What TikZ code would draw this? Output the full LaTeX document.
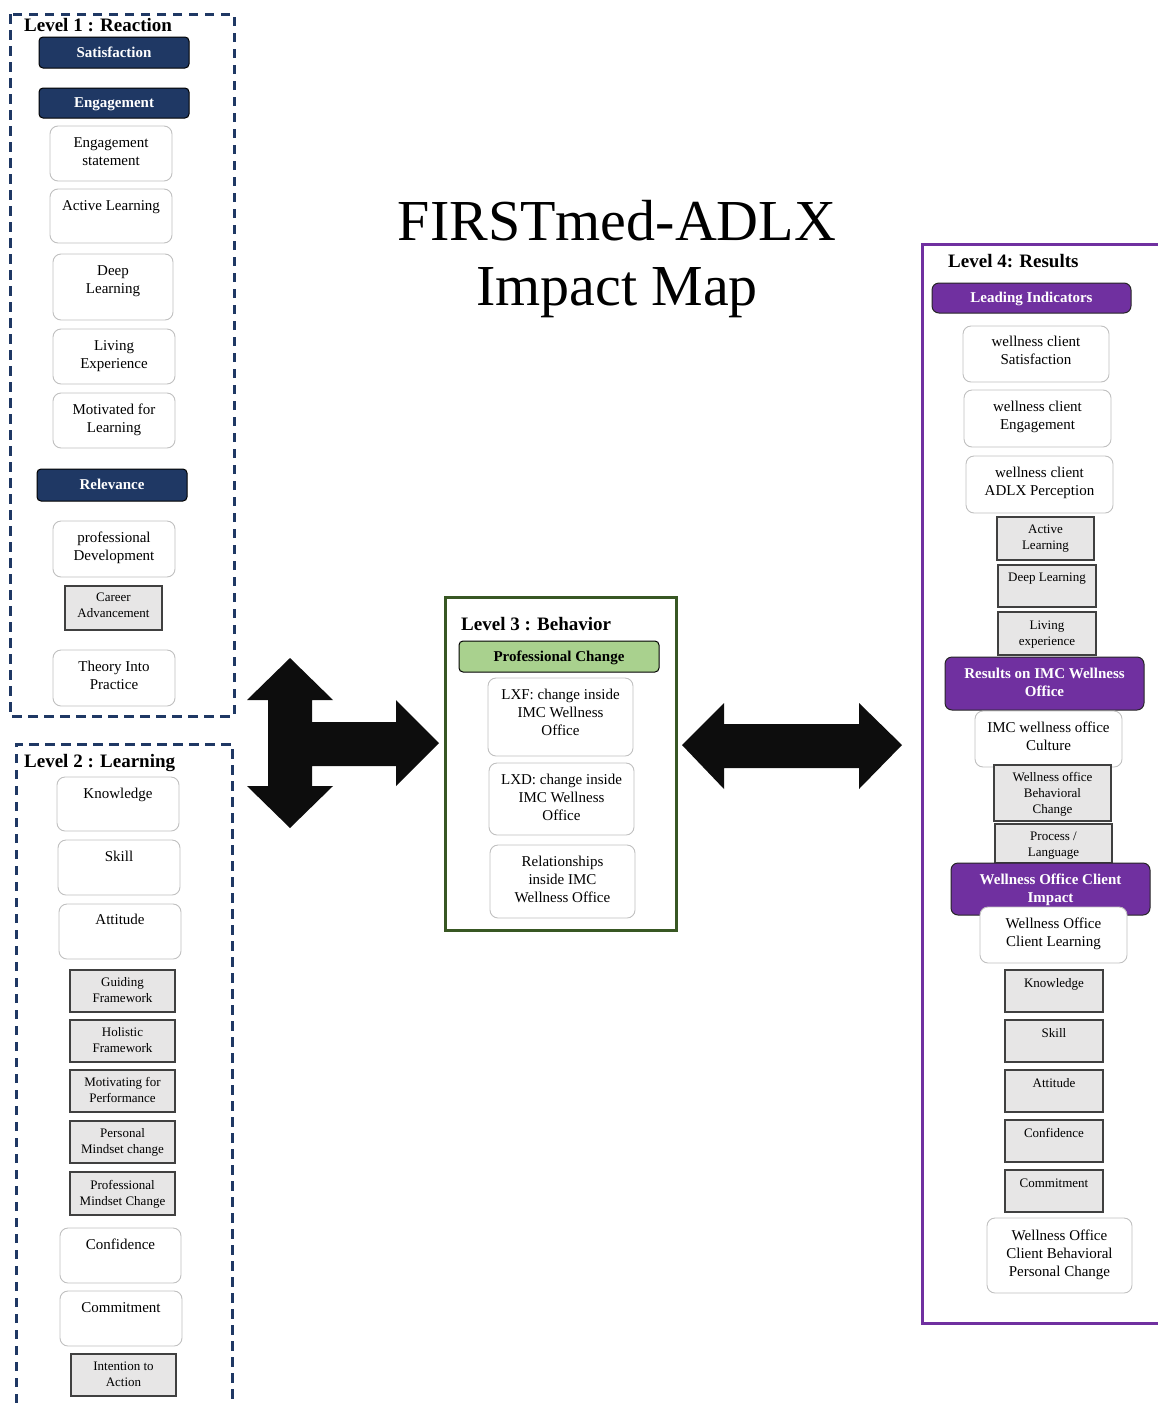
\documentclass[tikz,border=0pt]{standalone}
\usepackage{fontspec}
\setmainfont{Liberation Serif}
\definecolor{navyfill}{HTML}{1F3864}
\definecolor{greenfill}{HTML}{A9D18E}
\definecolor{greenline}{HTML}{385723}
\definecolor{purplefill}{HTML}{7030A0}
\definecolor{greyfill}{HTML}{E7E6E6}
\definecolor{greyline}{HTML}{404040}
\definecolor{softline}{HTML}{C0C0C0}

\tikzset{
  box/.style={inner sep=0pt, outer sep=0pt},
  soft/.style={box, draw=softline, line width=0.9pt, fill=white, rounded corners=8pt},
  grey/.style={box, draw=greyline, line width=1.3pt, fill=greyfill},
  navy/.style={box, draw=black, line width=1pt, fill=navyfill, rounded corners=4pt},
  purple/.style={box, draw=black!85, line width=1pt, fill=purplefill, rounded corners=7pt},
  green/.style={box, draw=black, line width=1pt, fill=greenfill, rounded corners=4pt},
  % text nodes sit on the baseline of their last line
  txtbase/.style={inner sep=0pt, align=center, anchor=base},
  soft txt/.style={txtbase, yshift=-5pt, font=\fontsize{15}{17.6}\selectfont},
  grey txt/.style={txtbase, yshift=-4pt, font=\fontsize{13}{15.6}\selectfont},
  navy txt/.style={txtbase, yshift=-5pt, text=white, font=\fontsize{15}{18}\selectfont\bfseries},
  purple txt/.style={txtbase, yshift=-5pt, text=white, font=\fontsize{15}{18}\selectfont\bfseries},
  green txt/.style={txtbase, yshift=-5pt, font=\fontsize{15}{18}\selectfont\bfseries},
  level/.style={inner sep=0pt, anchor=base west, font=\fontsize{19}{22}\selectfont\bfseries},
  dashframe/.style={draw=navyfill, line width=3pt, dash pattern=on 9.5pt off 6.5pt},
  bigarrow/.style={fill=black!95},
}

% \bx{name}{style}{x1}{y1}{x2}{y2}{last text line y}{text}
\newcommand{\bx}[8]{%
  \pgfmathsetmacro{\bxw}{#5-#3}%
  \pgfmathsetmacro{\bxh}{#6-#4}%
  \node[#2, minimum width=\bxw pt, minimum height=\bxh pt] (#1) at ({(#3+#5)/2},{(#4+#6)/2}) {};%
  \node[#2 txt] (#1-t) at ({(#3+#5)/2},#7) {#8};%
}

\begin{document}
\begin{tikzpicture}[x=1pt, y=-1pt]
\useasboundingbox (0,0) rectangle (1157,1403);

% ---------- Level 1 : Reaction ----------
\draw[dashframe] (10,14) rectangle (234,716);
\node[level] (l1) at (24,31) {Level 1 : Reaction};
\bx{sat}{navy}{39}{37}{189}{68}{52}{Satisfaction}
\bx{eng}{navy}{39}{88}{189}{118}{102}{Engagement}
\bx{engst}{soft}{50}{126}{172}{181}{160}{Engagement\\statement}
\bx{actl}{soft}{50}{189}{172}{243}{205}{Active Learning}
\bx{deepl}{soft}{53}{254}{173}{320}{288}{Deep\\Learning}
\bx{living}{soft}{53}{329}{175}{384}{363}{Living\\Experience}
\bx{motiv}{soft}{53}{393}{175}{448}{427}{Motivated for\\Learning}
\bx{rel}{navy}{37}{469}{187}{501}{484}{Relevance}
\bx{profdev}{soft}{53}{521}{175}{577}{555}{professional\\Development}
\bx{career}{grey}{65}{586}{162}{630}{613}{Career\\Advancement}
\bx{theory}{soft}{53}{650}{175}{706}{684}{Theory Into\\Practice}

% ---------- Level 2 : Learning ----------
\draw[dashframe] (16,1403) -- (16,744) -- (232,744) -- (232,1403);
\node[level] (l2) at (24,767) {Level 2 : Learning};
\bx{know}{soft}{57}{777}{179}{831}{793}{Knowledge}
\bx{skill}{soft}{58}{840}{180}{895}{856}{Skill}
\bx{att}{soft}{59}{904}{181}{959}{919}{Attitude}
\bx{guide}{grey}{70}{970}{175}{1012}{998}{Guiding\\Framework}
\bx{holis}{grey}{70}{1020}{175}{1062}{1048}{Holistic\\Framework}
\bx{motperf}{grey}{70}{1070}{175}{1112}{1098}{Motivating for\\Performance}
\bx{pers}{grey}{70}{1121}{175}{1163}{1149}{Personal\\Mindset change}
\bx{profm}{grey}{70}{1172}{175}{1215}{1201}{Professional\\Mindset Change}
\bx{conf}{soft}{60}{1228}{181}{1283}{1244}{Confidence}
\bx{commit}{soft}{60}{1291}{182}{1346}{1307}{Commitment}
\bx{intent}{grey}{71}{1354}{176}{1396}{1382}{Intention to\\Action}

% ---------- Title ----------
\node[inner sep=0pt, align=center, anchor=base,
      font=\fontsize{58}{65}\selectfont] (title) at (617,305) {FIRSTmed-ADLX\\Impact Map};

% ---------- Block arrows ----------
\fill[bigarrow] (290,658) -- (333,700) -- (312,700) -- (312,722) -- (396,722) -- (396,700)
  -- (439,743) -- (396,786) -- (396,766) -- (312,766) -- (312,786) -- (333,786)
  -- (290,828) -- (247,786) -- (268,786) -- (268,700) -- (247,700) -- cycle;
\fill[bigarrow] (682,745) -- (724,703) -- (724,724) -- (859,724) -- (859,703) -- (902,745)
  -- (859,789) -- (859,768) -- (724,768) -- (724,789) -- cycle;

% ---------- Level 3 : Behavior ----------
\draw[draw=greenline, line width=3pt] (445,597) rectangle (676,930);
\node[level] (l3) at (461,630) {Level 3 : Behavior};
\bx{profch}{green}{459}{641}{659}{672}{656}{Professional Change}
\bx{lxf}{soft}{488}{678}{633}{756}{730}{LXF: change inside\\IMC Wellness\\Office}
\bx{lxd}{soft}{489}{763}{634}{835}{815}{LXD: change inside\\IMC Wellness\\Office}
\bx{relat}{soft}{490}{845}{635}{918}{897}{Relationships\\inside IMC\\Wellness Office}

% ---------- Level 4 : Results ----------
\draw[draw=purplefill, line width=3pt] (1160,244) -- (922,244) -- (922,1323) -- (1160,1323);
\node[level] (l4) at (948,267) {Level 4: Results};
\bx{lead}{purple}{932}{283}{1131}{313}{297}{Leading Indicators}
\bx{wcsat}{soft}{963}{326}{1109}{382}{359}{wellness client\\Satisfaction}
\bx{wceng}{soft}{964}{390}{1111}{447}{424}{wellness client\\Engagement}
\bx{wcadlx}{soft}{966}{456}{1113}{513}{490}{wellness client\\ADLX Perception}
\bx{ractl}{grey}{997}{517}{1094}{560}{545}{Active\\Learning}
\bx{rdeep}{grey}{998}{565}{1096}{607}{577}{Deep Learning}
\bx{rliving}{grey}{998}{612}{1096}{655}{641}{Living\\experience}
\bx{resimc}{purple}{945}{657}{1144}{710}{691}{Results on IMC Wellness\\Office}
\bx{culture}{soft}{975}{711}{1122}{767}{745}{IMC wellness office\\Culture}
\bx{wobeh}{grey}{994}{765}{1111}{821}{809}{Wellness office\\Behavioral\\Change}
\bx{proc}{grey}{995}{824}{1112}{863}{852}{Process /\\Language}
\bx{wocimp}{purple}{951}{863}{1150}{915}{897}{Wellness Office Client\\Impact}
\bx{wocl}{soft}{980}{907}{1127}{963}{941}{Wellness Office\\Client Learning}
\bx{rknow}{grey}{1005}{970}{1103}{1012}{983}{Knowledge}
\bx{rskill}{grey}{1005}{1020}{1103}{1062}{1033}{Skill}
\bx{ratt}{grey}{1005}{1070}{1103}{1112}{1083}{Attitude}
\bx{rconf}{grey}{1005}{1120}{1103}{1162}{1133}{Confidence}
\bx{rcommit}{grey}{1005}{1170}{1103}{1212}{1183}{Commitment}
\bx{wocbp}{soft}{987}{1218}{1132}{1293}{1271}{Wellness Office\\Client Behavioral\\Personal Change}
\end{tikzpicture}
\end{document}
